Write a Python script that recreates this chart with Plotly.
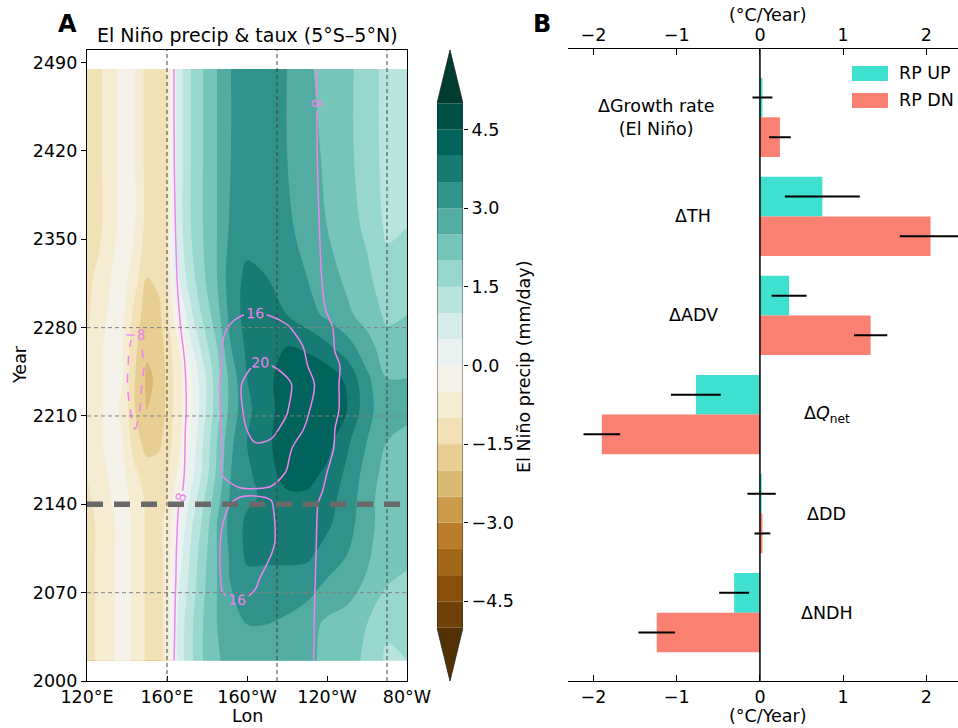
import plotly.graph_objects as go
import plotly.colors as pc

FONT = "DejaVu Sans"
W, H = 958, 728

# ---------------- Panel A data ----------------
precip_lon = [120, 126, 132, 138, 144, 150, 156, 160, 163, 167, 172, 178, 185,
              192, 200, 210, 220, 230, 240, 250, 260, 270, 280]
precip_year = [2016, 2045, 2075, 2100, 2125, 2145, 2165, 2190, 2215, 2240,
               2265, 2290, 2320, 2360, 2420, 2485]
precip = [
    [-1.2, -0.9, -0.6, -0.3, -0.6, -1.1, -1.1, -0.9, 0.2, 0.8, 1.4, 2.0, 2.4, 2.8, 2.9, 2.9, 2.8, 2.6, 2.4, 2.2, 1.9, 1.4, 1.5],
    [-1.2, -0.9, -0.6, -0.3, -0.6, -1.1, -1.1, -0.9, 0.2, 0.8, 1.4, 2.0, 2.5, 2.9, 3.0, 3.0, 2.9, 2.7, 2.4, 2.3, 2.0, 1.6, 1.6],
    [-1.2, -0.9, -0.6, -0.3, -0.6, -1.1, -1.1, -0.9, 0.1, 0.6, 1.2, 1.9, 2.5, 3.0, 3.3, 3.3, 3.3, 3.2, 2.9, 2.7, 2.4, 2.0, 1.9],
    [-1.2, -0.9, -0.6, -0.3, -0.6, -1.1, -1.1, -0.9, -0.1, 0.4, 1.1, 1.8, 2.5, 3.1, 3.6, 3.6, 3.6, 3.6, 3.3, 3.0, 2.6, 2.1, 2.1],
    [-1.2, -0.9, -0.6, -0.3, -0.6, -1.1, -1.1, -0.9, -0.3, 0.2, 0.9, 1.6, 2.5, 3.2, 3.6, 3.7, 3.8, 3.8, 3.6, 3.2, 2.7, 2.2, 2.2],
    [-1.1, -0.8, -0.5, -0.3, -0.7, -1.1, -1.1, -1.0, -0.5, -0.1, 0.6, 1.4, 2.3, 3.1, 3.4, 3.6, 3.9, 3.9, 3.7, 3.3, 2.7, 2.2, 2.2],
    [-1.0, -0.7, -0.4, -0.4, -0.9, -1.3, -1.3, -1.1, -0.7, -0.3, 0.3, 1.1, 2.1, 3.0, 3.4, 3.8, 4.2, 4.2, 3.9, 3.4, 2.8, 2.3, 2.3],
    [-1.0, -0.6, -0.3, -0.5, -1.3, -1.7, -1.6, -1.3, -0.9, -0.5, 0.1, 1.0, 2.0, 2.9, 3.5, 3.9, 4.3, 4.4, 4.2, 3.6, 3.0, 2.5, 2.4],
    [-1.0, -0.6, -0.3, -0.6, -1.5, -2.0, -1.8, -1.4, -1.0, -0.6, -0.1, 0.8, 1.8, 2.7, 3.4, 3.8, 4.3, 4.5, 4.4, 4.0, 3.2, 2.6, 2.6],
    [-1.0, -0.6, -0.3, -0.5, -1.5, -2.1, -1.9, -1.4, -1.0, -0.6, -0.05, 0.8, 1.8, 2.7, 3.5, 3.9, 4.2, 4.4, 4.3, 3.9, 3.1, 2.5, 2.5],
    [-1.0, -0.6, -0.3, -0.5, -1.4, -1.9, -1.8, -1.3, -0.9, -0.4, 0.4, 1.2, 2.0, 3.0, 3.6, 3.9, 4.0, 3.9, 3.6, 3.2, 2.7, 2.2, 2.2],
    [-1.1, -0.7, -0.4, -0.4, -1.2, -1.8, -1.6, -1.2, -0.5, 0.1, 0.9, 1.6, 2.3, 3.2, 3.7, 3.7, 3.5, 3.2, 2.9, 2.6, 2.3, 1.9, 2.0],
    [-1.1, -0.9, -0.5, -0.3, -0.8, -1.5, -1.4, -1.1, 0.0, 0.7, 1.3, 1.9, 2.5, 3.3, 3.6, 3.5, 3.2, 3.0, 2.7, 2.4, 2.1, 1.7, 1.8],
    [-1.2, -1.1, -0.7, -0.3, -0.5, -1.2, -1.2, -1.0, 0.2, 0.9, 1.5, 2.0, 2.5, 3.1, 3.3, 3.3, 3.1, 2.8, 2.5, 2.2, 1.9, 1.4, 1.5],
    [-1.2, -1.1, -0.7, -0.3, -0.5, -1.2, -1.2, -1.0, 0.2, 0.9, 1.5, 2.0, 2.5, 3.0, 3.2, 3.2, 3.0, 2.7, 2.4, 2.1, 1.8, 1.3, 1.4],
    [-1.2, -1.1, -0.7, -0.3, -0.5, -1.2, -1.2, -1.0, 0.2, 0.9, 1.5, 2.0, 2.5, 3.0, 3.2, 3.2, 3.0, 2.6, 2.3, 2.1, 1.8, 1.3, 1.4],
]

taux_lon = [120, 136, 140, 144, 148, 154, 160, 166, 172, 180, 188, 196, 204,
            212, 220, 228, 236, 244, 256, 280]
taux_year = [2016, 2060, 2080, 2110, 2140, 2150, 2165, 2185, 2200, 2215,
             2235, 2250, 2265, 2280, 2295, 2320, 2400, 2485]
taux = [
    [-0.5, -1, -1, -0.5, 0, 1.5, 5.8, 9.5, 11, 13, 14.5, 14.8, 14.3, 13.2, 11.5, 9.6, 7.2, 5.8, 5, 4],
    [-0.5, -1, -1, -0.5, 0, 1.5, 5.5, 9.2, 11, 13.5, 15.6, 15.8, 15.2, 13.8, 12, 9.8, 7.3, 6, 5, 4],
    [-0.5, -1, -1, -0.5, 0, 1.5, 5.2, 9, 11, 13.5, 16.4, 16.9, 16.5, 14.5, 12.5, 10, 7.4, 6, 5, 4],
    [-0.5, -1, -1, -0.5, 0, 1.5, 5, 8.7, 11, 13.5, 16.5, 17.3, 17.5, 16.8, 13.5, 10.5, 7.5, 6, 5, 4],
    [-0.5, -1, -1, -1, -0.5, 1, 4, 8, 10.5, 13, 15.5, 16.6, 16.8, 16.3, 13.5, 10.5, 7.8, 6.3, 5.3, 4],
    [-0.5, -1, -1, -1, -0.5, 1, 3.5, 7.2, 10, 12.8, 14.8, 15.5, 15.6, 15.4, 14, 11.5, 8.4, 6.5, 5.5, 4],
    [-0.5, -1, -1.5, -2, -1.5, 0.5, 3, 6.8, 9.5, 13, 16.3, 17.8, 18, 17.5, 15.8, 12.5, 9.2, 6.8, 5.5, 4],
    [-0.5, -1.5, -3, -4, -3, -0.5, 2.5, 6.5, 9.5, 13, 16.2, 18.5, 19.7, 19.5, 17, 14, 10.5, 7.8, 6, 4.5],
    [0, -3, -6.5, -8.1, -6, -2, 2, 6.3, 9.5, 13, 16.5, 19.3, 20.8, 20.6, 19.4, 16.2, 12.5, 8, 6.3, 4.5],
    [0, -3, -7, -9.5, -7, -2.5, 1.5, 6, 9.3, 13, 16.6, 19.6, 21.3, 21.3, 20.2, 17.5, 14, 8.3, 6.5, 4.5],
    [0, -3.5, -7.8, -11, -7.5, -3, 1.5, 6, 9.5, 13, 16.8, 19.7, 21.5, 21.5, 20.6, 18.5, 15, 8.3, 6.5, 4.5],
    [0, -3.5, -7.5, -11, -8.5, -3, 2, 6.5, 9.5, 13, 16.3, 19, 20.2, 20, 19, 17, 13.5, 8.5, 6, 4.5],
    [0, -3, -7, -10, -7.5, -2, 3, 7, 10, 13, 16.2, 18.5, 19.3, 19, 18, 16, 12, 7.8, 6, 4.5],
    [0, -2, -5, -7.5, -5, -1, 4, 7.6, 10.5, 13, 15.6, 17, 17.5, 17.2, 16.4, 14.5, 11, 7.5, 5.5, 4],
    [2, 2.5, 2, 2, 2.5, 3.5, 5, 8, 10.5, 12.5, 14, 15.2, 15.6, 15.2, 14, 12, 8.8, 6.8, 5, 3.5],
    [1.5, 2, 1.5, 1, 1.5, 3, 5.5, 8.5, 10.8, 12.5, 13.8, 14.5, 14.6, 14.2, 13, 11, 8.3, 6.5, 5, 3.5],
    [2, 3, 3, 3, 3.5, 4, 6, 9.2, 11, 12, 12.8, 13.2, 13.2, 12.8, 11.8, 10.2, 7.8, 6, 4.5, 3],
    [2, 3, 3, 3, 3.5, 4, 6.2, 9.3, 11, 12, 12.8, 13.2, 13.2, 12.8, 11.8, 10, 7.6, 6, 4.5, 3],
]

lon_tickvals = [120, 160, 200, 240, 280]
lon_ticktext = ["120°E", "160°E", "160°W", "120°W", "80°W"]
year_ticks = [2000, 2070, 2140, 2210, 2280, 2350, 2420, 2490]
ref_years = [2070, 2210, 2280]
ref_lons = [160, 215, 270]
split_year = 2140

level_start, level_end, level_step = -5.0, 5.0, 0.5
cbar_ticks = [-4.5, -3.0, -1.5, 0.0, 1.5, 3.0, 4.5]
cbar_ticktext = ["\u22124.5", "\u22123.0", "\u22121.5", "0.0", "1.5", "3.0", "4.5"]

# ---------------- Panel B data ----------------
terms = ["\u0394Growth rate<br>(El Niño)", "\u0394TH", "\u0394ADV",
         "\u0394<i>Q</i><sub>net</sub>", "\u0394DD", "\u0394NDH"]
rp_up = [0.03, 0.75, 0.35, -0.77, 0.02, -0.31]
rp_up_err = [0.12, 0.45, 0.21, 0.30, 0.17, 0.18]
rp_dn = [0.24, 2.05, 1.33, -1.90, 0.03, -1.24]
rp_dn_err = [0.13, 0.37, 0.20, 0.22, 0.095, 0.22]
b_ticks = [-2, -1, 0, 1, 2]
b_ticktext = ["\u22122", "\u22121", "0", "1", "2"]

# label placement (x in data units) for panel B
label_x = [-1.25, -0.8, -0.8, 0.8, 0.8, 0.8]

UP_COLOR = "#40E0D0"
DN_COLOR = "#FA8072"
VIOLET = "#EE82EE"

brbg = pc.make_colorscale(pc.diverging.BrBG)

fig = go.Figure()

# ---- Panel A: precip filled contours ----
fig.add_trace(go.Contour(
    x=precip_lon, y=precip_year, z=precip, colorscale=brbg,
    autocontour=False,
    contours=dict(start=level_start, end=level_end, size=level_step,
                  coloring="fill", showlines=False),
    line=dict(width=0), showscale=False, hoverinfo="skip",
    xaxis="x", yaxis="y"))

# ---- taux contours ----
label_font = dict(family=FONT, size=14, color=VIOLET)
fig.add_trace(go.Contour(
    x=taux_lon, y=taux_year, z=taux, autocontour=False,
    contours=dict(start=8, end=16, size=8, coloring="none",
                  showlabels=True, labelfont=label_font),
    line=dict(color=VIOLET, width=1.5), showscale=False, hoverinfo="skip",
    xaxis="x", yaxis="y"))
fig.add_trace(go.Contour(
    x=taux_lon, y=taux_year, z=taux, autocontour=False,
    contours=dict(start=20, end=20.5, size=1, coloring="none",
                  showlabels=True, labelfont=label_font),
    line=dict(color=VIOLET, width=1.5), showscale=False, hoverinfo="skip",
    xaxis="x", yaxis="y"))
fig.add_trace(go.Contour(
    x=taux_lon, y=taux_year, z=taux, autocontour=False,
    contours=dict(start=-8, end=-7.5, size=1, coloring="none",
                  showlabels=True, labelfont=label_font),
    line=dict(color=VIOLET, width=1.5, dash="dash"), showscale=False,
    hoverinfo="skip", xaxis="x", yaxis="y"))

shapes = []
for yv in ref_years:
    shapes.append(dict(type="line", xref="x", yref="y", x0=120, x1=280, y0=yv, y1=yv,
                       line=dict(color="#808080", width=1, dash="4px,3px"), layer="above"))
for xv in ref_lons:
    shapes.append(dict(type="line", xref="x", yref="y", x0=xv, x1=xv, y0=2000, y1=2500,
                       line=dict(color="#404040", width=1, dash="4px,3px"), layer="above"))
shapes.append(dict(type="line", xref="x", yref="y", x0=120, x1=280, y0=split_year, y1=split_year,
                   line=dict(color="#696969", width=5.5, dash="16px,11px"), layer="above"))

# ---- colorbar (custom, with extension triangles) ----
n_bands = int(round((level_end - level_start) / level_step))
levels = [level_start + i * level_step for i in range(n_bands + 1)]
band_cols = pc.sample_colorscale(brbg, [(k + 1) / (n_bands + 1) for k in range(n_bands)])
under_col, over_col = pc.sample_colorscale(brbg, [0.0, 1.0])
ext = 1.02
for k in range(n_bands):
    shapes.append(dict(type="rect", xref="x2", yref="y2", x0=0, x1=1,
                       y0=levels[k], y1=levels[k + 1], fillcolor=band_cols[k],
                       line=dict(width=0), layer="above"))
shapes.append(dict(type="path", xref="x2", yref="y2",
                   path=f"M 0,{level_end} L 1,{level_end} L 0.5,{level_end + ext} Z",
                   fillcolor=over_col, line=dict(width=0), layer="above"))
shapes.append(dict(type="path", xref="x2", yref="y2",
                   path=f"M 0,{level_start} L 1,{level_start} L 0.5,{level_start - ext} Z",
                   fillcolor=under_col, line=dict(width=0), layer="above"))
shapes.append(dict(type="path", xref="x2", yref="y2",
                   path=(f"M 0,{level_start} L 0,{level_end} L 0.5,{level_end + ext} "
                         f"L 1,{level_end} L 1,{level_start} L 0.5,{level_start - ext} Z"),
                   line=dict(color="#222222", width=0.8), layer="above"))
fig.add_trace(go.Scatter(x=[0.5], y=[0], xaxis="x2", yaxis="y2", mode="markers",
                         marker=dict(size=1, opacity=0), showlegend=False, hoverinfo="skip"))

# ---- Panel B: bars ----
idx = list(range(len(terms)))
fig.add_trace(go.Bar(
    y=[i - 0.2 for i in idx], x=rp_up, orientation="h", width=0.4,
    marker=dict(color=UP_COLOR, line=dict(width=0)),
    error_x=dict(type="data", array=rp_up_err, symmetric=True, color="black",
                 thickness=2, width=0),
    name="RP UP", showlegend=False, xaxis="x3", yaxis="y3"))
fig.add_trace(go.Bar(
    y=[i + 0.2 for i in idx], x=rp_dn, orientation="h", width=0.4,
    marker=dict(color=DN_COLOR, line=dict(width=0)),
    error_x=dict(type="data", array=rp_dn_err, symmetric=True, color="black",
                 thickness=2, width=0),
    name="RP DN", showlegend=False, xaxis="x3", yaxis="y3"))
fig.add_trace(go.Scatter(x=[0], y=[0], xaxis="x4", yaxis="y3", mode="markers",
                         marker=dict(size=1, opacity=0), showlegend=False, hoverinfo="skip"))

shapes.append(dict(type="line", xref="x3", yref="y3 domain", x0=0, x1=0, y0=0, y1=1,
                   line=dict(color="black", width=1.5), layer="above"))


def px_x(p):
    return p / W


def px_y(p):
    return 1 - p / H


# manual legend
for (col, yc) in [(UP_COLOR, 73.5), (DN_COLOR, 100.5)]:
    shapes.append(dict(type="rect", xref="paper", yref="paper",
                       x0=px_x(852), x1=px_x(888), y0=px_y(yc + 7.5), y1=px_y(yc - 7.5),
                       fillcolor=col, line=dict(width=0)))

tickfont = dict(family=FONT, size=17.5, color="black")
annotations = []
for (lab, yc) in [("RP UP", 73.5), ("RP DN", 100.5)]:
    annotations.append(dict(text=lab, x=px_x(897), y=px_y(yc), xref="paper", yref="paper",
                            xanchor="left", yanchor="middle", showarrow=False, font=tickfont))

for i, t in enumerate(terms):
    annotations.append(dict(text=t, x=label_x[i], y=i, xref="x3", yref="y3",
                            xanchor="center", yanchor="middle", showarrow=False,
                            font=tickfont, align="center"))

annotations += [
    dict(text="El Niño precip &amp; taux (5°S\u20135°N)", x=px_x(247), y=px_y(35),
         xref="paper", yref="paper", xanchor="center", yanchor="middle",
         showarrow=False, font=dict(family=FONT, size=19, color="black")),
    dict(text="<b>A</b>", x=px_x(67), y=px_y(24), xref="paper", yref="paper",
         xanchor="center", yanchor="middle", showarrow=False,
         font=dict(family=FONT, size=24, color="black")),
    dict(text="<b>B</b>", x=px_x(542), y=px_y(24), xref="paper", yref="paper",
         xanchor="center", yanchor="middle", showarrow=False,
         font=dict(family=FONT, size=24, color="black")),
    dict(text="Year", x=px_x(20), y=px_y(365), xref="paper", yref="paper",
         xanchor="center", yanchor="middle", textangle=-90, showarrow=False, font=tickfont),
    dict(text="Lon", x=px_x(247), y=px_y(716), xref="paper", yref="paper",
         xanchor="center", yanchor="middle", showarrow=False, font=tickfont),
    dict(text="El Niño precip (mm/day)", x=px_x(524), y=px_y(367), xref="paper", yref="paper",
         xanchor="center", yanchor="middle", textangle=-90, showarrow=False, font=tickfont),
    dict(text="(°C/Year)", x=px_x(768), y=px_y(15), xref="paper", yref="paper",
         xanchor="center", yanchor="middle", showarrow=False, font=tickfont),
    dict(text="(°C/Year)", x=px_x(768), y=px_y(716), xref="paper", yref="paper",
         xanchor="center", yanchor="middle", showarrow=False, font=tickfont),
]

axis_common = dict(showgrid=False, zeroline=False, tickfont=tickfont, automargin=False,
                   tickcolor="black", linecolor="black")

fig.update_layout(
    template="none",
    width=W, height=H, margin=dict(l=0, r=0, t=0, b=0, pad=0),
    paper_bgcolor="white", plot_bgcolor="white",
    font=dict(family=FONT, size=17.5, color="black"),
    barmode="overlay", showlegend=False,
    xaxis=dict(domain=[px_x(87), px_x(407)], range=[120, 280], anchor="y",
               tickvals=lon_tickvals, ticktext=lon_ticktext, ticks="inside", ticklen=5,
               showline=True, linewidth=1.3, mirror=True, **axis_common),
    yaxis=dict(domain=[px_y(681), px_y(50)], range=[2000, 2500], anchor="x",
               tickvals=year_ticks, ticks="outside", ticklen=5,
               showline=True, linewidth=1.3, mirror=True, **axis_common),
    xaxis2=dict(domain=[px_x(437), px_x(463)], range=[0, 1], anchor="y2", visible=False,
                automargin=False),
    yaxis2=dict(domain=[px_y(681), px_y(50)], range=[level_start - ext, level_end + ext],
                anchor="x2", side="right", tickvals=cbar_ticks, ticktext=cbar_ticktext,
                ticks="outside", ticklen=4, showline=False, **axis_common),
    xaxis3=dict(domain=[px_x(567.7), 1.0], range=[-2.31, 2.38], anchor="y3", side="bottom",
                tickvals=b_ticks, ticktext=b_ticktext, ticks="inside", ticklen=5.5,
                showline=True, linewidth=1.3, **axis_common),
    xaxis4=dict(overlaying="x3", range=[-2.31, 2.38], anchor="y3", side="top",
                tickvals=b_ticks, ticktext=b_ticktext, ticks="inside", ticklen=5.5,
                showline=True, linewidth=1.3, **axis_common),
    yaxis3=dict(domain=[px_y(681), px_y(49)], range=[5.69, -0.69], anchor="x3",
                visible=False, automargin=False),
    shapes=shapes, annotations=annotations,
)

fig.write_html("out.html", config={"displayModeBar": False},
               post_script="document.body.style.margin='0px';document.body.style.padding='0px';")
